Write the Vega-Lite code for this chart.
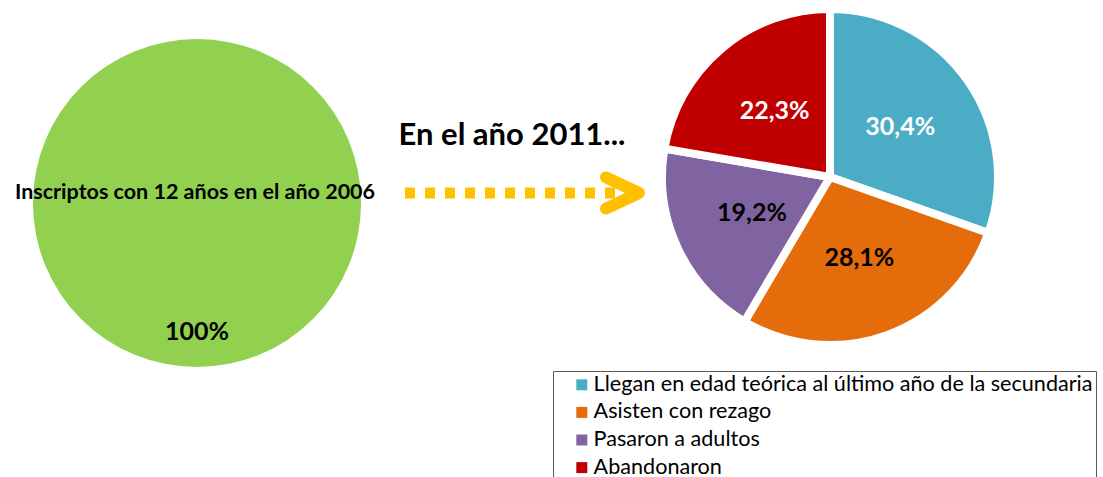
{
  "$schema": "https://vega.github.io/schema/vega-lite/v6.json",
  "padding": 0,
  "spacing": 0,
  "bounds": "flush",
  "background": "white",
  "config": {
    "view": {"stroke": null},
    "font": "Lato",
    "locale": {"number": {"decimal": ",", "thousands": ".", "grouping": [3], "currency": ["", " €"]}}
  },
  "hconcat": [
    {
      "width": 394,
      "height": 406,
      "data": {"values": [{"categoria": "Inscriptos con 12 años en el año 2006", "proporcion": 1}]},
      "layer": [
        {
          "mark": {"type": "arc", "outerRadius": 164, "color": "#92D050"},
          "encoding": {"theta": {"field": "proporcion", "type": "quantitative", "stack": true}}
        },
        {
          "mark": {"type": "text", "radius": 129, "font": "Lato", "fontWeight": "bold", "fontSize": 25, "color": "black"},
          "encoding": {
            "theta": {"field": "proporcion", "type": "quantitative", "stack": true},
            "text": {"field": "proporcion", "type": "quantitative", "format": ".0%"}
          }
        },
        {
          "mark": {"type": "text", "dy": -10, "dx": -2, "font": "Lato", "fontWeight": "bold", "fontSize": 21.5, "color": "black"},
          "encoding": {"text": {"field": "categoria", "type": "nominal"}}
        }
      ]
    },
    {
      "width": 262,
      "height": 386,
      "data": {"values": [{"titulo": "En el año 2011..."}]},
      "layer": [
        {
          "mark": {"type": "text", "dx": -13, "dy": -57, "font": "Lato", "fontWeight": "bold", "fontSize": 31, "color": "black"},
          "encoding": {"text": {"field": "titulo", "type": "nominal"}}
        },
        {
          "mark": {"type": "point", "shape": "M-1,0L0.75,0", "size": 57600, "filled": false, "opacity": 1, "stroke": "#FFC000", "strokeWidth": 11, "strokeDash": [10, 10], "strokeCap": "butt"},
          "encoding": {}
        },
        {
          "mark": {"type": "point", "shape": "M0.675,-0.13L0.95,0L0.675,0.13", "size": 57600, "filled": false, "opacity": 1, "stroke": "#FFC000", "strokeWidth": 12, "strokeCap": "round", "strokeJoin": "round"},
          "encoding": {}
        }
      ]
    },
    {
      "width": 348,
      "height": 354,
      "data": {
        "values": [
          {"categoria": "Llegan en edad teórica al último año de la secundaria", "proporcion": 0.304, "orden": 1},
          {"categoria": "Asisten con rezago", "proporcion": 0.281, "orden": 2},
          {"categoria": "Pasaron a adultos", "proporcion": 0.192, "orden": 3},
          {"categoria": "Abandonaron", "proporcion": 0.223, "orden": 4}
        ]
      },
      "layer": [
        {
          "mark": {"type": "arc", "outerRadius": 168, "stroke": "white", "strokeWidth": 8, "strokeJoin": "round"},
          "encoding": {
            "theta": {"field": "proporcion", "type": "quantitative", "stack": true},
            "order": {"field": "orden", "type": "quantitative"},
            "color": {
              "field": "categoria",
              "type": "nominal",
              "sort": null,
              "scale": {
                "domain": ["Llegan en edad teórica al último año de la secundaria", "Asisten con rezago", "Pasaron a adultos", "Abandonaron"],
                "range": ["#4BACC6", "#E46C0A", "#8064A2", "#C00000"]
              },
              "legend": {
                "title": null,
                "orient": "none",
                "legendX": 553,
                "legendY": 371,
                "direction": "vertical",
                "symbolType": "square",
                "symbolSize": 121,
                "symbolStrokeWidth": 0,
                "labelFont": "Lato",
                "labelFontSize": 21.6,
                "labelColor": "black",
                "labelLimit": 0,
                "labelOffset": 1,
                "rowPadding": 4.6,
                "padding": 3,
                "symbolOffset": 15,
                "strokeColor": "#595959"
              }
            }
          }
        },
        {
          "mark": {"type": "text", "radius": 86, "font": "Lato", "fontWeight": "bold", "fontSize": 25},
          "encoding": {
            "theta": {"field": "proporcion", "type": "quantitative", "stack": true},
            "order": {"field": "orden", "type": "quantitative"},
            "text": {"field": "proporcion", "type": "quantitative", "format": ".1%"},
            "color": {
              "condition": {"test": "datum.categoria === 'Asisten con rezago' || datum.categoria === 'Pasaron a adultos'", "value": "black"},
              "value": "white"
            }
          }
        }
      ]
    }
  ]
}
